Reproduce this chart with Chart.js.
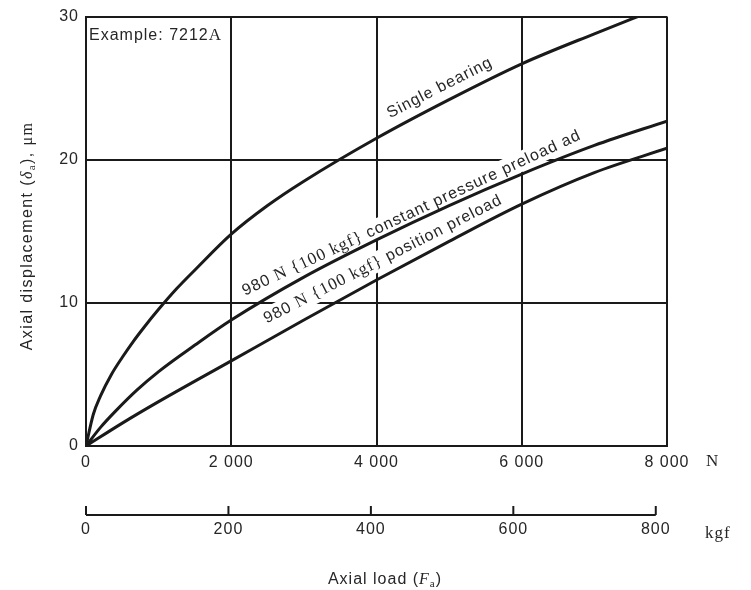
<!DOCTYPE html>
<html>
<head>
<meta charset="utf-8">
<script src="https://cdn.jsdelivr.net/npm/chart.js@4.4.1/dist/chart.umd.min.js"></script>
<style>
html, body { margin: 0; padding: 0; background: #fff; }
</style>
</head>
<body>
<canvas id="dispChart" width="751" height="590"></canvas>
<script>
// axial load (N) and axial displacement (um)
var singleLoad = [0, 100, 200, 350, 500, 650, 800, 1000, 1250, 1500, 2000, 2500, 3000, 4000, 5000, 6000, 7000, 7800];
var singleDisp = [0, 2.2, 3.5, 5.0, 6.2, 7.3, 8.3, 9.55, 11.0, 12.3, 14.8, 16.8, 18.5, 21.5, 24.2, 26.7, 28.8, 30.4];
var constLoad = [0, 200, 400, 700, 1000, 1500, 2000, 3000, 4000, 5000, 6000, 7000, 8000];
var constDisp = [0, 1.3, 2.4, 3.9, 5.2, 7.05, 8.8, 11.8, 14.4, 16.8, 19.0, 21.0, 22.7];
var posLoad = [0, 500, 1000, 2000, 3000, 4000, 5000, 6000, 7000, 8000];
var posDisp = [0, 1.6, 3.1, 5.95, 8.8, 11.6, 14.3, 16.9, 19.1, 20.8];

var nTicks = [0, 2000, 4000, 6000, 8000];
var kgfTicks = [0, 200, 400, 600, 800];
var dispTicks = [0, 10, 20, 30];

var SANS = '"Liberation Sans", Arial, sans-serif';
var SERIF = '"Liberation Serif", "Times New Roman", serif';
var INK = '#1a1a1a';
var TXT = '#262626';

function pts(xs, ys) {
    return xs.map(function (x, i) { return { x: x, y: ys[i] }; });
}

function fmtN(v) {
    if (v < 1000) return String(v);
    var s = String(v);
    return s.slice(0, s.length - 3) + ' ' + s.slice(-3);
}

function setTicks(list) {
    return function (scale) {
        scale.ticks = list.map(function (v) { return { value: v }; });
    };
}

// text made of pieces with different fonts
function partsWidth(ctx, parts) {
    var w = 0;
    parts.forEach(function (p) { ctx.font = p[1]; w += ctx.measureText(p[0]).width; });
    return w;
}
function drawParts(ctx, parts, x, y) {
    parts.forEach(function (p) {
        ctx.font = p[1];
        ctx.fillText(p[0], x, y + (p[2] || 0));
        x += ctx.measureText(p[0]).width;
    });
}

var f16 = '16px ' + SANS;
var s16 = '16px ' + SERIF;
var s17 = '17px ' + SERIF;
var i16 = 'italic 16px ' + SERIF;
var sub = '11px ' + SERIF;

var curveLabels = [
    { parts: [['Single bearing', f16]], at: [4186, 22.9], angle: -27 },
    { parts: [['980 ', f16], ['N ', s17], ['{100 kgf} ', s17], ['constant pressure preload ad', f16]], at: [2189, 10.5], angle: -25 },
    { parts: [['980 ', f16], ['N ', s17], ['{100 kgf} ', s17], ['position preload', f16]], at: [2488, 8.55], angle: -27 }
];

var textPlugin = {
    id: 'figText',
    beforeDraw: function (chart) {
        chart.ctx.letterSpacing = '1px';
    },
    beforeDatasetsDraw: function (chart) {
        var ctx = chart.ctx, xs = chart.scales.x, ys = chart.scales.y;
        curveLabels.forEach(function (lb) {
            var px = xs.getPixelForValue(lb.at[0]);
            var py = ys.getPixelForValue(lb.at[1]);
            ctx.save();
            ctx.translate(px, py);
            ctx.rotate(lb.angle * Math.PI / 180);
            var w = partsWidth(ctx, lb.parts);
            ctx.fillStyle = '#fff';
            ctx.fillRect(-3, -15, w + 6, 20);
            ctx.fillStyle = TXT;
            ctx.textBaseline = 'alphabetic';
            ctx.textAlign = 'left';
            drawParts(ctx, lb.parts, 0, 0);
            ctx.restore();
        });
    },
    afterDraw: function (chart) {
        var ctx = chart.ctx, area = chart.chartArea, k = chart.scales.kgf;
        ctx.save();
        ctx.letterSpacing = '1px';
        ctx.fillStyle = TXT;
        ctx.textBaseline = 'middle';
        ctx.textAlign = 'left';

        // second load axis in kgf
        ctx.strokeStyle = INK;
        ctx.lineWidth = 2;
        ctx.beginPath();
        ctx.moveTo(k.getPixelForValue(0), k.top);
        ctx.lineTo(k.getPixelForValue(kgfTicks[kgfTicks.length - 1]), k.top);
        kgfTicks.forEach(function (v) {
            var px = k.getPixelForValue(v);
            ctx.moveTo(px, k.top);
            ctx.lineTo(px, k.top - 9);
        });
        ctx.stroke();

        ctx.font = '17px ' + SERIF;
        ctx.fillText('N', 706, chart.scales.x.top + 16);
        ctx.fillText('kgf', 705, k.top + 19);

        drawParts(ctx, [['Example: 7212', f16], ['A', s17]], area.left + 3, area.top + 19);

        // axis titles
        var xt = [['Axial load (', f16], ['F', i16], ['a', sub, 4], [')', f16]];
        var w = partsWidth(ctx, xt);
        drawParts(ctx, xt, 385 - w / 2, 580);

        ctx.letterSpacing = '1.4px';
        var yt = [['Axial displacement (', f16], ['\u03b4', i16], ['a', sub, 4], ['), ', f16], ['\u03bcm', s16]];
        ctx.translate(28, 236);
        ctx.rotate(-Math.PI / 2);
        w = partsWidth(ctx, yt);
        drawParts(ctx, yt, -w / 2, 0);
        ctx.restore();
    }
};

var lineStyle = {
    borderColor: INK,
    borderWidth: 3,
    pointRadius: 0,
    fill: false,
    cubicInterpolationMode: 'monotone'
};

var ctx = document.getElementById('dispChart').getContext('2d');
new Chart(ctx, {
    type: 'line',
    data: {
        datasets: [
            Object.assign({ label: 'Single bearing', data: pts(singleLoad, singleDisp) }, lineStyle),
            Object.assign({ label: '980 N {100 kgf} constant pressure preload', data: pts(constLoad, constDisp) }, lineStyle),
            Object.assign({ label: '980 N {100 kgf} position preload', data: pts(posLoad, posDisp) }, lineStyle)
        ]
    },
    options: {
        responsive: false,
        animation: false,
        devicePixelRatio: 1,
        layout: { padding: { left: 0, right: 84, top: 15, bottom: 35 } },
        plugins: { legend: { display: false }, tooltip: { enabled: false } },
        scales: {
            x: {
                type: 'linear', position: 'bottom', weight: 0,
                min: 0, max: 8000,
                afterBuildTicks: setTicks(nTicks),
                afterFit: function (s) { s.height = 69; },
                grid: { color: INK, lineWidth: 2, drawTicks: false },
                border: { color: INK, width: 2 },
                ticks: {
                    padding: 7, color: TXT, maxRotation: 0, autoSkip: false,
                    font: { family: SANS, size: 16 },
                    callback: function (v) { return fmtN(v); }
                }
            },
            kgf: {
                type: 'linear', position: 'bottom', weight: 1, axis: 'x',
                min: 0, max: 8000 / 9.80665,
                afterBuildTicks: setTicks(kgfTicks),
                afterFit: function (s) { s.height = 40; },
                grid: { display: false, drawTicks: false },
                border: { display: false },
                ticks: {
                    padding: 5, color: TXT, maxRotation: 0, autoSkip: false,
                    font: { family: SANS, size: 16 }
                }
            },
            y: {
                type: 'linear', min: 0, max: 30,
                afterBuildTicks: setTicks(dispTicks),
                afterFit: function (s) { s.width = 86; },
                grid: { color: INK, lineWidth: 2, drawTicks: false },
                border: { color: INK, width: 2 },
                ticks: {
                    padding: 7, color: TXT,
                    font: { family: SANS, size: 16 }
                }
            }
        }
    },
    plugins: [textPlugin]
});
</script>
</body>
</html>
